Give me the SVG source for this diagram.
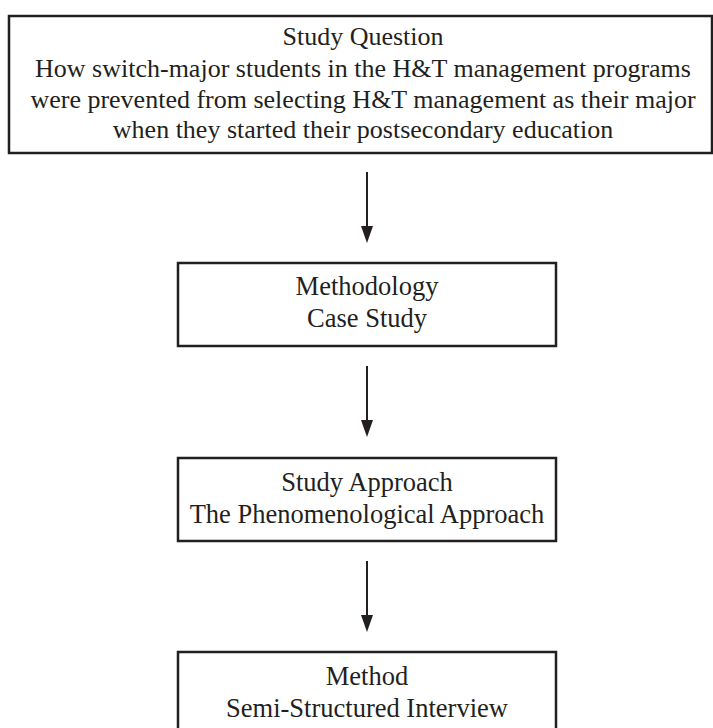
<svg xmlns="http://www.w3.org/2000/svg" width="713" height="728" viewBox="0 0 713 728">
<style>
.box{fill:#fff;stroke:#231f20;stroke-width:2.5}
.t{font-family:"Liberation Serif","Times New Roman",serif;font-size:26.5px;fill:#231f20;text-anchor:middle}
.tq{font-size:26px}
.c{stroke:#231f20;stroke-width:2;fill:none}
.ah{fill:#231f20}
</style>
<g id="connectors">
<line class="c" x1="367" y1="172" x2="367" y2="228"/>
<path class="ah" d="M361,226 L373,226 L367,243 Z"/>
<line class="c" x1="367" y1="366" x2="367" y2="422"/>
<path class="ah" d="M361,420 L373,420 L367,437 Z"/>
<line class="c" x1="367" y1="561" x2="367" y2="617"/>
<path class="ah" d="M361,615 L373,615 L367,632 Z"/>
</g>
<g id="n1">
<rect class="box" x="9" y="16" width="703" height="137"/>
<text class="t tq" x="363" y="45">Study Question</text>
<text class="t tq" x="363" y="77">How switch-major students in the H&amp;T management programs</text>
<text class="t tq" x="363" y="108">were prevented from selecting H&amp;T management as their major</text>
<text class="t tq" x="363" y="138">when they started their postsecondary education</text>
</g>
<g id="n2">
<rect class="box" x="178" y="263" width="378" height="83"/>
<text class="t" x="367" y="295">Methodology</text>
<text class="t" x="367" y="327">Case Study</text>
</g>
<g id="n3">
<rect class="box" x="178" y="458" width="378" height="83"/>
<text class="t" x="367" y="491">Study Approach</text>
<text class="t" x="367" y="523">The Phenomenological Approach</text>
</g>
<g id="n4">
<rect class="box" x="178" y="652" width="378" height="90"/>
<text class="t" x="367" y="685">Method</text>
<text class="t" x="367" y="717">Semi-Structured Interview</text>
</g>
</svg>
